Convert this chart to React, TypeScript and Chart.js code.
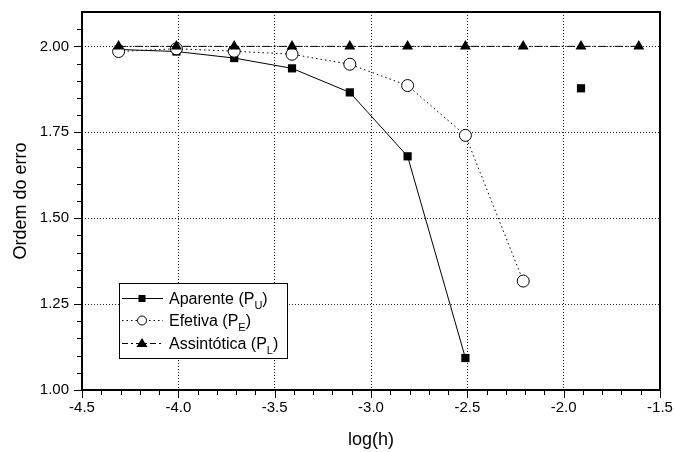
import React, { useEffect, useRef } from "react";
import { Chart, registerables } from "chart.js";

Chart.register(...registerables);

const xLog = [-4.31, -4.01, -3.71, -3.41, -3.11, -2.81, -2.51, -2.21, -1.91, -1.61];
const aparente = [1.991, 1.985, 1.966, 1.936, 1.866, 1.68, 1.093, null, 1.878];
const efetiva = [1.985, 1.993, 1.986, 1.977, 1.948, 1.886, 1.741, 1.317];
const assintotica = [2.0, 2.0, 2.0, 2.0, 2.0, 2.0, 2.0, 2.0, 2.0, 2.0];
const xTicks = [-4.5, -4.0, -3.5, -3.0, -2.5, -2.0, -1.5];
const yTicks = [1.0, 1.25, 1.5, 1.75, 2.0];
const legendLabels = [
  ["Aparente (P", "U", ")"],
  ["Efetiva (P", "E", ")"],
  ["Assintótica (P", "L", ")"],
];
const xTitle = "log(h)";
const yTitle = "Ordem do erro";

const FONT = "'Liberation Sans', Arial, sans-serif";

const toPoints = (vals: (number | null)[]) =>
  vals.map((v, i) => ({ x: xLog[i], y: v }));

const framePlugin = {
  id: "frameAndTicks",
  afterDraw(chart: any) {
    const { ctx, chartArea } = chart;
    const xs = chart.scales.x;
    const ys = chart.scales.y;
    ctx.save();
    ctx.strokeStyle = "#000";
    ctx.lineWidth = 1;
    const drawX = (v: number, len: number) => {
      const px = Math.round(xs.getPixelForValue(v)) + 0.5;
      ctx.beginPath();
      ctx.moveTo(px, chartArea.bottom);
      ctx.lineTo(px, chartArea.bottom + len);
      ctx.stroke();
    };
    const drawY = (v: number, len: number) => {
      const py = Math.round(ys.getPixelForValue(v)) + 0.5;
      ctx.beginPath();
      ctx.moveTo(chartArea.left, py);
      ctx.lineTo(chartArea.left - len, py);
      ctx.stroke();
    };
    for (let i = 0; i < xTicks.length; i++) {
      drawX(xTicks[i], 8);
      if (i < xTicks.length - 1) {
        const step = (xTicks[i + 1] - xTicks[i]) / 5;
        for (let k = 1; k < 5; k++) drawX(xTicks[i] + k * step, 5);
      }
    }
    const ystep = (yTicks[1] - yTicks[0]) / 5;
    for (let i = 0; i < yTicks.length; i++) {
      drawY(yTicks[i], 8);
      for (let k = 1; k < 5; k++) {
        const v = yTicks[i] + k * ystep;
        if (v < ys.max - 1e-6) drawY(v, 5);
      }
    }
    // frame
    ctx.lineWidth = 2;
    ctx.strokeRect(
      chartArea.left,
      chartArea.top,
      chartArea.right - chartArea.left,
      chartArea.bottom - chartArea.top
    );

    // legend
    const bx = chartArea.left + 37;
    const by = chartArea.top + 271;
    const bw = 168;
    const bh = 75;
    ctx.fillStyle = "#fff";
    ctx.fillRect(bx, by, bw, bh);
    ctx.lineWidth = 1;
    ctx.strokeRect(bx + 0.5, by + 0.5, bw, bh);
    const rows = [15, 37, 60];
    const dashes = [[], [1.5, 3], [6, 3, 2, 3]];
    rows.forEach((dy, i) => {
      const cy = by + dy;
      const lx0 = bx + 3;
      const lx1 = bx + 44;
      const mx = bx + 23;
      ctx.strokeStyle = "#000";
      ctx.lineWidth = 1;
      ctx.setLineDash(dashes[i]);
      ctx.beginPath();
      ctx.moveTo(lx0, cy + 0.5);
      ctx.lineTo(lx1, cy + 0.5);
      ctx.stroke();
      ctx.setLineDash([]);
      ctx.fillStyle = "#000";
      if (i === 0) {
        ctx.fillRect(mx - 3.5, cy - 3, 7, 7);
      } else if (i === 1) {
        ctx.beginPath();
        ctx.arc(mx, cy + 0.5, 4.5, 0, Math.PI * 2);
        ctx.fillStyle = "#fff";
        ctx.fill();
        ctx.stroke();
      } else {
        ctx.beginPath();
        ctx.moveTo(mx, cy - 5);
        ctx.lineTo(mx + 5.5, cy + 4);
        ctx.lineTo(mx - 5.5, cy + 4);
        ctx.closePath();
        ctx.fill();
      }
      const [main, sub, end] = legendLabels[i];
      const tx = bx + 50;
      ctx.fillStyle = "#000";
      ctx.textBaseline = "alphabetic";
      ctx.textAlign = "left";
      ctx.font = `16px ${FONT}`;
      ctx.fillText(main, tx, cy + 6);
      let w = ctx.measureText(main).width;
      ctx.font = `11px ${FONT}`;
      ctx.fillText(sub, tx + w, cy + 11);
      w += ctx.measureText(sub).width;
      ctx.font = `16px ${FONT}`;
      ctx.fillText(end, tx + w, cy + 6);
    });
    ctx.restore();
  },
};

export default function App() {
  const ref = useRef<HTMLCanvasElement | null>(null);
  useEffect(() => {
    if (!ref.current) return;
    const chart = new Chart(ref.current, {
      type: "line",
      data: {
        datasets: [
          {
            label: "Aparente",
            data: toPoints(aparente),
            borderColor: "#000",
            backgroundColor: "#000",
            borderWidth: 1,
            pointStyle: "rect",
            pointRadius: 5.8,
            pointBorderWidth: 0,
            pointBackgroundColor: "#000",
            spanGaps: false,
            order: 3,
          },
          {
            label: "Efetiva",
            data: toPoints(efetiva),
            borderColor: "#000",
            backgroundColor: "#fff",
            borderWidth: 1,
            borderDash: [1.5, 3],
            pointStyle: "circle",
            pointRadius: 6,
            pointBorderWidth: 1,
            pointBackgroundColor: "#fff",
            pointBorderColor: "#000",
            order: 2,
          },
          {
            label: "Assintótica",
            data: toPoints(assintotica),
            borderColor: "#000",
            backgroundColor: "#000",
            borderWidth: 1,
            borderDash: [8, 3, 2, 3],
            pointStyle: "triangle",
            pointRadius: 6.3,
            pointBorderWidth: 0,
            pointBackgroundColor: "#000",
            order: 1,
          },
        ],
      },
      options: {
        animation: false,
        responsive: false,
        parsing: false as any,
        layout: { padding: { top: 12, right: 15, left: 0, bottom: 0 } },
        plugins: {
          legend: { display: false },
          tooltip: { enabled: false },
        },
        elements: { line: { tension: 0 } },
        scales: {
          x: {
            type: "linear",
            min: -4.5,
            max: -1.5,
            afterBuildTicks: (s: any) => {
              s.ticks = xTicks.map((v) => ({ value: v }));
            },
            afterFit: (s: any) => {
              s.height = 62;
              s.paddingLeft = 0;
              s.paddingRight = 0;
            },
            ticks: {
              color: "#000",
              font: { family: FONT, size: 15 },
              padding: 9,
              maxRotation: 0,
              autoSkip: false,
              callback: (v: any) => Number(v).toFixed(1),
            },
            grid: {
              color: "#222",
              lineWidth: 1,
              drawTicks: false,
            },
            border: { display: false, dash: [1, 2] },
            title: {
              display: true,
              text: xTitle,
              color: "#000",
              font: { family: FONT, size: 18 },
              padding: { top: 0, bottom: 1 },
            },
          },
          y: {
            type: "linear",
            min: 1.0,
            max: 2.1,
            afterBuildTicks: (s: any) => {
              s.ticks = yTicks.map((v) => ({ value: v }));
            },
            afterFit: (s: any) => {
              s.width = 82;
              s.paddingTop = 0;
              s.paddingBottom = 0;
            },
            ticks: {
              color: "#000",
              font: { family: FONT, size: 15 },
              padding: 13,
              autoSkip: false,
              callback: (v: any) => Number(v).toFixed(2),
            },
            grid: {
              color: "#222",
              lineWidth: 1,
              drawTicks: false,
            },
            border: { display: false, dash: [1, 2] },
            title: {
              display: true,
              text: yTitle,
              color: "#000",
              font: { family: FONT, size: 18 },
              padding: { top: 10, bottom: 0 },
            },
          },
        },
      },
      plugins: [framePlugin],
    });
    return () => chart.destroy();
  }, []);
  return (
    <div style={{ position: "absolute", left: 0, top: 0, width: 675, height: 452, background: "#fff" }}>
      <canvas ref={ref} width={675} height={452} />
    </div>
  );
}
